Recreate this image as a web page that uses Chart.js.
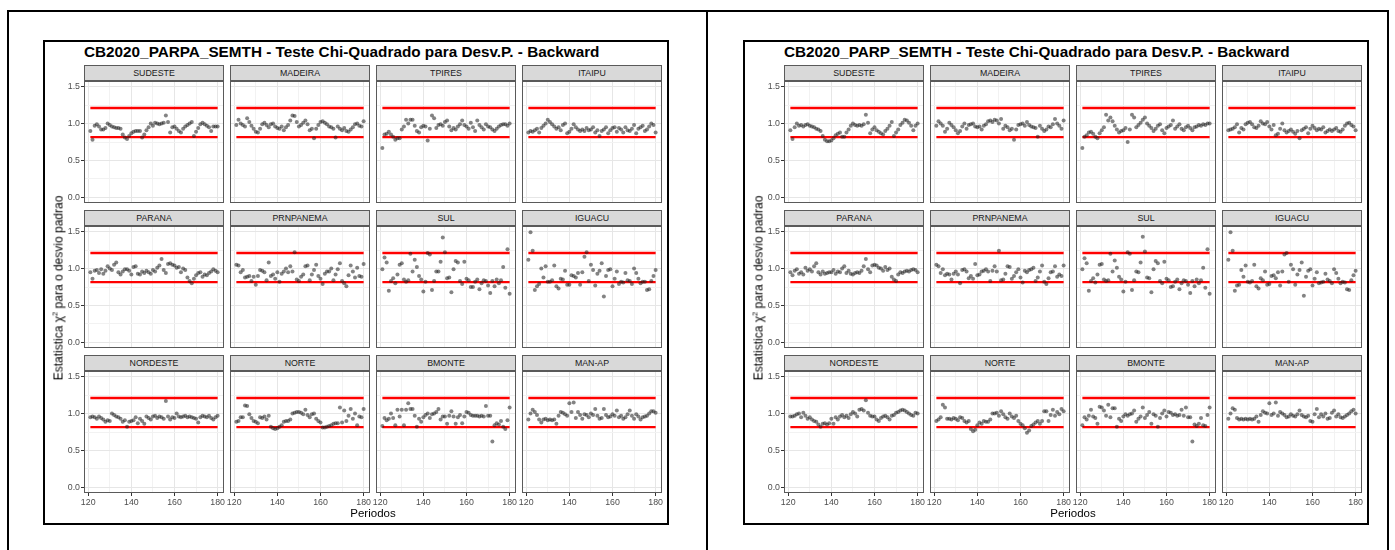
<!DOCTYPE html>
<html lang="pt-BR">
<head>
<meta charset="utf-8">
<title>Teste Chi-Quadrado para Desv.P. - Backward</title>
<script src="https://cdn.jsdelivr.net/npm/chart.js@4.4.1/dist/chart.umd.min.js"></script>
<style>
  body {
    margin: 0;
    width: 1395px;
    height: 550px;
    position: relative;
    overflow: hidden;
    background: #fff;
    font-family: "Liberation Sans", Arial, sans-serif;
  }
  .linha { position: absolute; background: #000; }
  .caixa { position: absolute; border: 2px solid #000; box-sizing: border-box; }
  .titulo { position: absolute; font-weight: bold; font-size: 15.3px; line-height: 16px; white-space: nowrap; color: #000; }
  .strip {
    position: absolute;
    background: #d9d9d9;
    border: 1px solid #5a5a5a;
    box-sizing: border-box;
    font-size: 8.8px;
    line-height: 14px;
    color: #1a1a1a;
    text-align: center;
  }
  .eixoX { position: absolute; font-size: 11.5px; line-height: 13px; color: #000; white-space: nowrap; transform: translateX(-50%); }
  .eixoY { position: absolute; font-size: 12px; line-height: 13px; color: #000; white-space: nowrap; transform: translate(-50%, -50%) rotate(-90deg); }
  .eixoY sup { font-size: 7.5px; vertical-align: 5px; }
  canvas { position: absolute; }
</style>
</head>
<body>
<script>
// Periodos (eixo x) e limites do teste
const periodos = [121,122,123,124,125,126,127,128,129,130,
                  131,132,133,134,135,136,137,138,139,140,
                  141,142,143,144,145,146,147,148,149,150,
                  151,152,153,154,155,156,157,158,159,160,
                  161,162,163,164,165,166,167,168,169,170,
                  171,172,173,174,175,176,177,178,179,180];
const limiteSup = 1.21;
const limiteInf = 0.815;

const subsistemas = ['SUDESTE', 'MADEIRA', 'TPIRES', 'ITAIPU',
                     'PARANA', 'PRNPANEMA', 'SUL', 'IGUACU',
                     'NORDESTE', 'NORTE', 'BMONTE', 'MAN-AP'];

const yTicks = [0, 0.25, 0.5, 0.75, 1, 1.25, 1.5];
const xTicks = [120, 130, 140, 150, 160, 170, 180];
const xRotulos = [120, 140, 160, 180];

// CB2020_PARPA_SEMTH
const parpaSudeste = [0.90,0.78,0.97,0.99,0.96,0.92,0.92,0.94,1.00,0.98,
                      0.96,0.95,0.94,0.94,0.93,0.85,0.81,0.79,0.83,0.87,
                      0.89,0.90,0.90,0.90,0.81,0.85,0.91,0.95,1.00,0.97,
                      1.01,1.00,0.99,1.00,1.01,1.11,1.02,0.88,0.95,0.96,
                      0.93,0.90,0.88,0.93,0.96,0.98,1.00,1.02,0.83,0.89,
                      0.94,0.99,1.01,0.99,0.97,0.95,0.90,0.96,0.96,0.96];
const parpaMadeira = [0.98,1.05,1.00,0.98,0.96,1.07,1.02,0.97,0.93,0.89,
                      0.88,0.93,0.99,1.01,0.98,0.95,0.99,1.00,0.96,0.94,
                      0.93,0.96,0.91,0.95,0.98,1.04,1.11,1.10,1.02,0.96,
                      0.98,1.01,1.04,0.99,0.91,0.93,0.80,0.93,0.98,1.02,
                      1.03,1.01,0.99,0.96,0.95,0.93,0.81,0.96,0.93,0.91,
                      0.94,0.90,0.89,0.92,0.95,0.99,1.00,0.97,0.96,1.03];
const parpaTpires = [0.67,0.85,0.86,0.89,0.85,0.82,0.78,0.80,0.80,0.92,
                     0.96,1.05,1.00,1.05,1.05,0.97,0.90,0.88,0.95,0.97,
                     0.96,0.77,0.93,1.11,1.07,0.94,0.98,0.99,0.97,1.02,
                     1.04,0.96,0.91,0.94,0.92,0.96,0.99,1.04,0.98,0.96,
                     0.93,1.01,0.95,0.90,1.04,0.98,0.95,0.92,0.99,0.96,
                     0.95,0.92,0.90,0.93,0.96,0.98,0.99,0.99,0.97,1.00];
const parpaItaipu = [0.88,0.90,0.89,0.91,0.93,0.88,0.94,0.97,1.00,1.05,
                     1.02,0.99,0.96,0.93,0.95,0.91,0.98,1.00,0.87,0.89,
                     0.93,0.99,0.95,0.92,0.90,0.92,0.90,0.94,0.91,0.92,
                     0.95,0.88,0.91,0.83,0.90,0.92,0.95,0.87,0.91,0.94,
                     0.95,0.89,0.94,0.92,0.88,0.95,0.91,0.90,0.93,0.98,
                     0.87,0.93,0.95,0.97,0.90,0.92,0.96,1.00,0.98,0.88];
const parpaParana = [0.95,0.86,0.97,0.98,0.94,0.99,0.93,0.97,1.03,1.00,
                     0.98,1.05,1.08,0.95,0.92,0.96,0.99,0.99,0.97,0.92,
                     1.02,1.03,0.93,0.92,0.96,0.94,0.97,0.95,0.93,0.98,
                     0.96,1.01,1.04,1.13,0.98,0.94,1.06,1.07,1.05,1.04,
                     1.01,1.02,0.95,1.00,0.98,0.88,0.83,0.80,0.86,0.91,
                     0.94,0.95,0.89,0.92,0.91,0.94,0.96,0.99,0.97,0.95];
const parpaPrnpanema = [1.05,1.04,0.95,0.98,0.88,0.89,0.90,0.83,0.89,0.78,
                        0.90,0.98,0.97,0.95,0.84,1.08,0.90,0.92,0.86,0.95,
                        0.82,0.93,0.96,1.00,0.95,1.03,0.96,1.22,0.85,0.83,
                        0.89,0.92,1.03,1.04,0.84,0.92,0.98,1.05,0.90,0.86,
                        0.79,0.93,0.96,0.96,1.00,0.84,0.92,0.99,1.07,0.83,
                        0.80,0.76,0.91,1.04,0.96,0.88,1.01,0.90,0.89,1.06];
const parpaSul = [0.99,1.15,1.08,0.70,0.83,0.87,0.80,0.92,1.05,1.07,
                  0.85,0.82,0.84,1.20,0.96,1.12,1.02,0.90,0.85,0.69,
                  0.82,1.21,1.19,0.71,0.83,0.96,0.96,1.09,1.42,1.22,
                  0.87,0.88,0.68,0.99,1.10,1.08,0.83,0.79,1.09,0.86,
                  0.84,0.75,0.75,0.82,0.85,0.72,0.80,0.84,0.83,0.77,
                  0.67,0.83,0.76,0.85,0.80,0.84,1.02,0.74,1.26,0.66];
const parpaIguacu = [1.12,1.49,1.24,0.71,0.76,0.79,1.00,0.88,1.03,0.82,
                     0.82,0.84,1.04,0.76,0.73,0.86,0.85,0.97,0.78,0.78,
                     0.91,0.90,0.88,0.94,0.78,0.95,1.16,1.22,0.83,1.05,
                     0.98,0.77,0.93,0.97,1.07,0.62,0.90,0.98,0.99,0.76,
                     0.86,0.96,0.79,0.82,0.81,0.94,0.84,0.83,0.79,1.00,
                     0.94,0.86,0.80,0.82,0.82,0.71,0.72,0.83,0.90,0.98];
const parpaNordeste = [0.95,0.96,0.95,0.93,0.96,0.94,0.92,0.89,0.91,0.90,
                       1.00,0.98,0.96,0.95,0.93,0.89,0.91,0.82,0.89,0.90,
                       0.91,0.95,0.87,0.93,0.90,0.86,0.96,0.94,0.92,0.96,
                       0.97,0.94,0.96,0.95,0.93,1.17,0.96,0.92,0.95,0.94,
                       1.00,0.96,0.95,0.96,0.97,0.95,0.96,0.95,0.94,0.93,
                       0.88,0.95,0.97,0.96,0.95,0.97,0.94,0.92,0.95,0.97];
const parpaNorte = [0.89,0.90,0.95,0.95,1.11,1.10,0.99,0.94,0.90,0.89,
                    0.87,0.95,0.94,0.96,0.92,0.97,0.82,0.80,0.79,0.80,
                    0.82,0.84,0.89,0.90,0.90,0.92,1.00,1.01,1.02,1.02,
                    1.01,0.99,1.05,0.98,0.95,0.99,1.00,0.93,0.90,0.88,
                    0.81,0.81,0.82,0.83,0.84,0.86,0.87,0.87,1.08,0.88,
                    1.04,0.90,0.97,1.06,0.93,1.00,0.84,0.96,0.95,1.06];
const parpaBmonte = [0.83,0.94,0.91,0.93,1.00,0.94,0.84,1.05,0.96,1.05,
                     0.84,1.05,1.14,1.06,1.06,0.97,0.82,0.93,0.89,0.95,
                     0.98,1.00,0.94,0.99,1.00,1.02,1.06,0.92,0.96,0.96,
                     0.86,0.97,1.03,0.96,0.86,0.95,0.98,0.87,0.96,1.02,
                     1.01,0.98,0.97,0.97,0.97,0.96,0.97,0.96,1.10,0.97,
                     0.97,0.62,0.84,0.87,0.85,0.90,0.82,0.79,0.91,1.08];
const parpaManAp = [0.92,1.00,1.05,1.02,0.98,0.92,0.88,0.92,0.93,0.91,
                    0.92,0.91,0.92,0.86,0.97,1.02,1.01,0.99,0.97,1.14,
                    1.02,1.15,0.94,1.02,0.98,0.93,0.99,0.98,0.95,1.00,
                    0.98,1.06,0.97,0.93,0.94,1.06,0.98,0.95,0.96,0.99,
                    0.97,1.04,0.95,0.97,0.93,0.95,0.99,1.04,0.97,0.93,
                    0.99,0.96,0.92,0.95,0.96,0.97,1.00,1.03,1.03,1.01];

// CB2020_PARP_SEMTH
const parpSudeste = [0.91,0.79,0.95,1.00,0.97,0.98,0.96,0.98,0.99,0.97,
                     0.96,0.95,0.93,0.92,0.90,0.83,0.78,0.76,0.76,0.77,
                     0.80,0.84,0.86,0.88,0.82,0.82,0.88,0.92,0.97,1.00,
                     0.98,0.97,0.98,0.97,0.99,1.12,1.01,0.87,0.92,0.95,
                     0.91,0.89,0.87,0.85,0.90,0.93,0.97,1.02,0.83,0.88,
                     0.92,0.98,1.01,1.05,1.04,1.01,0.97,0.91,0.97,1.00];
const parpMadeira = [0.97,1.03,1.00,0.97,0.89,0.93,1.01,0.98,0.95,0.91,
                     0.87,0.90,0.96,1.00,0.93,0.98,0.99,1.00,0.96,0.95,
                     0.96,0.92,0.97,0.99,1.03,1.04,1.02,1.05,1.04,1.00,
                     1.06,0.93,0.97,0.95,0.91,0.93,0.78,0.92,0.98,0.99,
                     1.00,0.97,1.02,0.98,0.96,0.95,0.94,0.82,0.97,0.93,
                     0.90,0.92,0.96,0.95,0.99,1.06,1.00,0.97,0.93,1.04];
const parpTpires = [0.67,0.82,0.84,0.88,0.89,0.86,0.82,0.80,0.87,0.91,
                    0.95,1.12,1.04,1.08,1.03,0.97,0.92,0.88,0.90,0.91,
                    0.94,0.75,0.92,1.12,1.08,0.95,0.98,1.01,1.05,1.08,
                    1.00,0.97,0.94,0.90,0.93,0.97,0.99,0.91,0.87,0.94,
                    0.96,0.98,1.04,0.93,0.96,0.99,0.93,0.91,0.95,0.97,
                    0.94,0.91,0.95,0.96,0.98,0.97,0.99,0.98,1.00,1.00];
const parpItaipu = [0.91,0.92,0.93,0.95,0.99,0.88,0.94,0.92,0.99,1.01,
                    1.02,0.99,0.95,0.94,0.97,1.03,1.00,0.99,1.02,0.96,
                    0.92,0.98,0.84,0.86,0.93,1.00,0.91,0.88,0.90,0.92,
                    0.89,0.86,0.90,0.80,0.91,0.93,0.95,0.87,0.93,0.97,
                    0.94,0.91,0.93,0.92,0.95,0.88,0.90,0.92,0.90,0.92,
                    0.94,0.90,0.89,0.92,0.97,1.00,1.01,0.98,0.96,0.91];
const parpParana = [0.95,0.91,0.97,0.99,0.93,0.95,0.92,1.01,0.97,0.99,
                    0.96,1.03,1.07,0.95,0.92,0.96,0.93,0.94,0.95,0.95,
                    0.98,0.93,0.96,0.95,1.00,1.03,0.94,0.97,0.93,0.92,
                    0.94,0.95,0.94,0.97,1.03,1.13,0.99,0.95,1.04,1.05,
                    1.04,1.01,1.00,0.97,1.02,0.98,1.00,0.89,0.85,0.83,
                    0.92,0.95,0.94,0.96,0.97,0.96,0.98,0.99,0.98,0.95];
const parpPrnpanema = [1.05,1.03,0.94,0.99,0.91,0.93,0.92,0.85,0.93,0.96,
                       0.92,0.80,0.98,0.99,0.96,0.87,0.90,0.86,1.06,0.91,
                       0.92,0.96,0.97,0.99,0.96,0.83,0.97,1.03,0.96,1.24,
                       0.84,0.85,0.93,1.03,1.02,0.86,0.90,0.95,0.99,0.88,
                       0.81,0.97,0.95,0.98,0.99,1.01,0.83,0.88,0.96,1.04,
                       0.82,0.79,0.87,0.95,0.96,1.03,0.89,0.92,0.90,1.04];
const parpSul = [0.99,1.14,1.07,0.70,0.83,0.87,0.81,0.92,1.05,1.06,
                 0.85,0.83,0.84,1.20,0.96,1.11,1.01,0.89,0.85,0.69,
                 0.82,1.22,1.20,0.71,0.84,0.96,0.95,1.08,1.43,1.23,
                 0.88,0.87,0.68,0.99,1.10,1.07,0.83,0.80,1.09,0.86,
                 0.84,0.75,0.76,0.82,0.85,0.72,0.80,0.84,0.83,0.78,
                 0.67,0.83,0.76,0.85,0.80,0.84,1.01,0.74,1.26,0.66];
const parpIguacu = [1.12,1.49,1.24,0.70,0.77,0.78,0.98,0.89,1.04,0.82,
                    0.81,0.83,1.05,0.76,0.73,0.87,0.84,0.96,0.78,0.79,
                    0.90,0.91,0.87,0.95,0.77,0.96,1.19,1.21,0.82,1.05,
                    0.99,0.78,0.92,0.98,1.08,0.63,0.89,0.97,0.99,0.77,
                    0.86,0.95,0.80,0.81,0.82,0.93,0.85,0.83,0.80,0.99,
                    0.94,0.86,0.80,0.82,0.81,0.72,0.71,0.84,0.91,0.97];
const parpNordeste = [0.96,0.96,0.97,0.99,1.00,0.95,1.01,0.97,0.93,0.95,
                      0.92,0.90,0.89,0.85,0.82,0.86,0.87,0.85,0.87,0.93,
                      0.86,0.95,0.92,0.96,0.98,0.95,0.97,0.94,0.99,1.02,
                      1.00,0.96,1.05,1.06,1.04,1.18,1.01,0.97,0.96,0.96,
                      0.92,0.90,0.94,0.96,0.97,0.95,0.92,0.97,0.98,1.01,
                      1.02,1.04,1.05,1.04,1.02,1.00,0.98,0.97,1.01,1.00];
const parpNorte = [0.90,0.92,0.95,1.12,1.08,0.93,0.93,0.92,0.94,0.93,
                   0.91,0.95,0.94,0.90,0.88,0.90,0.79,0.76,0.78,0.84,
                   0.88,0.86,0.90,0.89,0.89,0.92,1.00,1.00,1.01,0.97,
                   1.03,0.99,0.95,0.93,1.00,0.96,0.94,0.97,0.90,0.86,
                   0.84,0.80,0.74,0.77,0.83,0.85,0.88,0.90,0.86,0.90,
                   1.03,1.03,0.90,0.98,1.05,0.97,1.02,0.99,1.06,1.03];
const parpBmonte = [0.84,0.95,0.92,0.97,1.05,0.96,0.94,0.86,1.09,1.08,
                    1.04,0.97,1.12,0.95,1.07,1.07,0.82,0.93,0.90,0.96,
                    0.99,0.97,0.99,1.00,1.04,0.89,0.93,0.96,1.08,0.94,
                    0.98,1.02,0.86,0.99,0.97,0.82,0.94,1.00,1.04,0.96,
                    1.02,1.01,0.98,0.99,0.97,0.98,1.05,0.97,1.08,0.95,
                    0.95,0.62,0.85,0.83,0.86,0.94,0.84,0.83,0.98,1.08];
const parpManAp = [0.93,1.00,1.07,1.05,0.94,0.92,0.93,0.92,0.93,0.92,
                   0.93,0.92,0.93,0.96,0.89,0.98,1.03,1.01,1.00,1.14,
                   0.98,1.00,1.15,0.97,1.02,1.00,0.98,0.95,0.96,0.99,
                   0.97,0.96,0.99,1.04,0.98,0.96,0.95,0.97,0.90,0.89,
                   0.99,1.06,0.95,0.99,0.96,1.00,0.93,0.94,1.01,1.04,
                   0.96,0.99,0.95,0.94,0.96,0.98,1.00,1.03,1.05,1.00];

const graficos = [
  {
    titulo: 'CB2020_PARPA_SEMTH - Teste Chi-Quadrado para Desv.P. - Backward',
    series: [parpaSudeste, parpaMadeira, parpaTpires, parpaItaipu,
             parpaParana, parpaPrnpanema, parpaSul, parpaIguacu,
             parpaNordeste, parpaNorte, parpaBmonte, parpaManAp]
  },
  {
    titulo: 'CB2020_PARP_SEMTH - Teste Chi-Quadrado para Desv.P. - Backward',
    series: [parpSudeste, parpMadeira, parpTpires, parpItaipu,
             parpParana, parpPrnpanema, parpSul, parpIguacu,
             parpNordeste, parpNorte, parpBmonte, parpManAp]
  }
];

// Geometria dos paineis (px)
const painelW = 140, painelH = 122, stripH = 16;
const passoX = 146, passoY = 145;
const margemEsq = 44, margemTopo = 8, margemDir = 12, margemBase = 20;
const fonteTicks = { family: 'Liberation Sans', size: 8.8 };

// Moldura do painel, desenhada depois dos pontos
const bordaPainel = {
  id: 'bordaPainel',
  afterDraw(chart) {
    const a = chart.chartArea;
    const c = chart.ctx;
    c.save();
    c.strokeStyle = '#5a5a5a';
    c.lineWidth = 1;
    c.strokeRect(Math.round(a.left) + 0.5, Math.round(a.top) + 0.5,
                 Math.round(a.right - a.left) - 1, Math.round(a.bottom - a.top) - 1);
    c.restore();
  }
};

function el(tag, cls, css, html) {
  const e = document.createElement(tag);
  if (cls) e.className = cls;
  Object.assign(e.style, css);
  if (html !== undefined) e.innerHTML = html;
  document.body.appendChild(e);
  return e;
}

function linhaLimite(valor) {
  return {
    data: [{ x: periodos[0], y: valor }, { x: periodos[periodos.length - 1], y: valor }],
    showLine: true,
    borderColor: '#ff0000',
    borderWidth: 2.3,
    pointRadius: 0
  };
}

function criarFaceta(canvas, valores, col, row) {
  return new Chart(canvas, {
    type: 'scatter',
    data: {
      datasets: [
        {
          data: valores.map((v, i) => ({ x: periodos[i], y: v })),
          backgroundColor: 'rgba(30, 30, 30, 0.55)',
          borderWidth: 0,
          pointRadius: 2
        },
        linhaLimite(limiteSup),
        linhaLimite(limiteInf)
      ]
    },
    options: {
      responsive: false,
      animation: false,
      events: [],
      layout: { padding: { top: margemTopo, right: margemDir, left: 0, bottom: 0 } },
      plugins: {
        legend: { display: false },
        tooltip: { enabled: false }
      },
      scales: {
        x: {
          type: 'linear',
          min: 118.05,
          max: 182.95,
          afterBuildTicks: s => { s.ticks = xTicks.map(v => ({ value: v })); },
          afterFit: s => { s.height = margemBase; },
          border: { display: false },
          grid: {
            color: ctx => xRotulos.includes(ctx.tick.value) ? '#e6e6e6' : '#f2f2f2',
            lineWidth: 1,
            drawTicks: row === 2,
            tickLength: 3,
            tickColor: ctx => xRotulos.includes(ctx.tick.value) ? '#333333' : 'rgba(0,0,0,0)'
          },
          ticks: {
            display: row === 2,
            autoSkip: false,
            maxRotation: 0,
            padding: 1,
            color: '#4d4d4d',
            font: fonteTicks,
            callback: v => xRotulos.includes(v) ? String(v) : ''
          }
        },
        y: {
          type: 'linear',
          min: -0.075,
          max: 1.575,
          afterBuildTicks: s => { s.ticks = yTicks.map(v => ({ value: v })); },
          afterFit: s => { s.width = margemEsq; },
          border: { display: false },
          grid: {
            color: ctx => (ctx.tick.value * 2) % 1 === 0 ? '#e6e6e6' : '#f2f2f2',
            lineWidth: 1,
            drawTicks: col === 0,
            tickLength: 3,
            tickColor: ctx => (ctx.tick.value * 2) % 1 === 0 ? '#333333' : 'rgba(0,0,0,0)'
          },
          ticks: {
            display: col === 0,
            padding: 1,
            color: '#4d4d4d',
            font: fonteTicks,
            callback: v => (v * 2) % 1 === 0 ? v.toFixed(1) : ''
          }
        }
      }
    },
    plugins: [bordaPainel]
  });
}

function desenharGrafico(g, dx) {
  // caixa da figura e titulo
  el('div', 'caixa', { left: (43 + dx) + 'px', top: '40px', width: '626px', height: '485px' });
  el('div', 'titulo', { left: (84 + dx) + 'px', top: '44px' }, g.titulo);

  subsistemas.forEach((nome, k) => {
    const col = k % 4, row = Math.floor(k / 4);
    const px = 84 + dx + col * passoX;
    const py = 81 + row * passoY;

    el('div', 'strip', { left: px + 'px', top: (py - stripH) + 'px',
                         width: painelW + 'px', height: stripH + 'px' }, nome);

    const canvas = el('canvas', null, { left: (px - margemEsq) + 'px', top: (py - margemTopo) + 'px' });
    canvas.width = margemEsq + painelW + margemDir;
    canvas.height = margemTopo + painelH + margemBase;
    criarFaceta(canvas, g.series[k], col, row);
  });

  el('div', 'eixoX', { left: (373 + dx) + 'px', top: '507px' }, 'Periodos');
  el('div', 'eixoY', { left: (57 + dx) + 'px', top: '288px' },
     'Estatistica &chi;<sup>2</sup> para o desvio padrao');
}

// moldura externa em duas colunas
el('div', 'linha', { left: '7px', top: '10px', width: '1382px', height: '2px' });
el('div', 'linha', { left: '7px', top: '10px', width: '2px', height: '540px' });
el('div', 'linha', { left: '706px', top: '10px', width: '2px', height: '540px' });
el('div', 'linha', { left: '1387px', top: '10px', width: '2px', height: '540px' });

desenharGrafico(graficos[0], 0);
desenharGrafico(graficos[1], 700);
</script>
</body>
</html>
